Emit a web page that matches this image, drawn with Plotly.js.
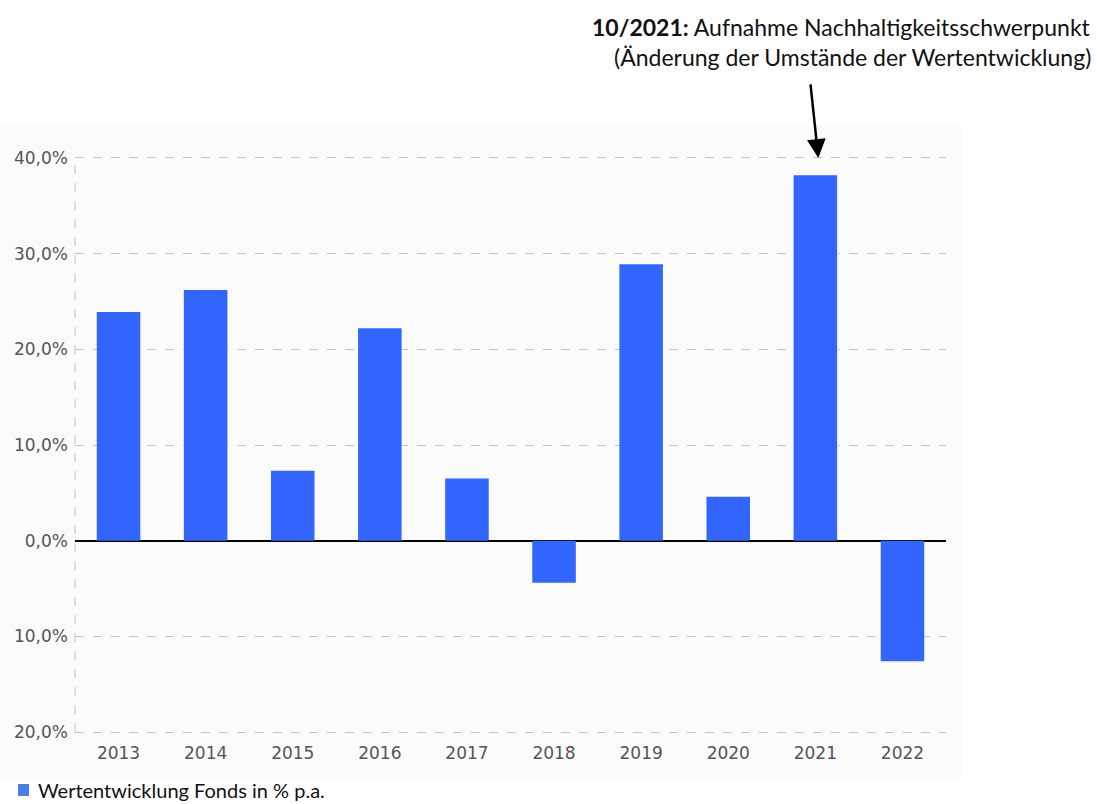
<!DOCTYPE html>
<html>
<head>
<meta charset="utf-8">
<script src="https://cdn.plot.ly/plotly-3.0.1.min.js"></script>
<style>html,body{margin:0;padding:0;background:#fff;}#chart{width:1097px;height:804px;}</style>
</head>
<body>
<div id="chart"></div>
<script>
const years = ['2013','2014','2015','2016','2017','2018','2019','2020','2021','2022'];
const values = [23.9, 26.2, 7.3, 22.2, 6.5, -4.4, 28.9, 4.6, 38.2, -12.6];
const yTickVals = [40, 30, 20, 10, 0, -10, -20];
const yTickText = ['40,0%', '30,0%', '20,0%', '10,0%', '0,0%', '10,0%', '20,0%'];
const seriesName = 'Wertentwicklung Fonds in % p.a.';
const noteBold = '10/2021:';
const noteLine1 = 'Aufnahme Nachhaltigkeitsschwerpunkt';
const noteLine2 = '(Änderung der Umstände der Wertentwicklung)';
const noteYear = '2021';
const barColor = '#3366ff';

const trace = {
  type: 'bar',
  x: years,
  y: values,
  name: seriesName,
  width: 0.5,
  marker: {color: barColor, line: {width: 0}},
  hoverinfo: 'x+y',
  showlegend: false
};

const tickFont = {family: '"DejaVu Sans", Verdana, sans-serif', size: 17, color: '#555'};
const noteFont = {family: 'Lato, "Noto Sans", sans-serif', size: 23, color: '#111'};

const layout = {
  width: 1097,
  height: 804,
  margin: {l: 75, r: 151, t: 156, b: 70},
  paper_bgcolor: '#ffffff',
  plot_bgcolor: 'rgba(0,0,0,0)',
  showlegend: false,
  xaxis: {
    type: 'category',
    range: [-0.5, 9.5],
    showgrid: false,
    showline: false,
    zeroline: false,
    ticks: '',
    tickfont: tickFont,
    ticklabelstandoff: 7
  },
  yaxis: {
    range: [-20.2, 40.2],
    tickvals: yTickVals,
    ticktext: yTickText,
    showgrid: true,
    gridcolor: '#c4c4c4',
    griddash: 'dash',
    gridwidth: 1,
    zeroline: true,
    zerolinecolor: '#000',
    zerolinewidth: 2,
    showline: false,
    ticks: '',
    tickfont: tickFont,
    ticklabelstandoff: 6
  },
  shapes: [
    {type: 'rect', xref: 'paper', yref: 'paper', x0: -0.0861, x1: 1.0184, y0: -0.0796, y1: 1.0536,
     fillcolor: '#fbfbfb', line: {width: 0}, layer: 'below'},
    {type: 'line', xref: 'paper', yref: 'y', x0: 0, x1: 0, y0: -20, y1: 40,
     line: {color: '#c4c4c4', width: 1, dash: 'dash'}, layer: 'below'},
    {type: 'rect', xref: 'paper', yref: 'paper', x0: -0.0654, x1: -0.0528, y0: -0.0865, y1: -0.1073,
     fillcolor: '#4a7ee8', line: {width: 0}}
  ],
  annotations: [
    {xref: 'paper', yref: 'paper', x: 1.1653, y: 1.2232, xanchor: 'right', yanchor: 'middle', xshift: 3,
     text: '<b>' + noteBold + '</b> ' + noteLine1, showarrow: false, align: 'right', font: noteFont},
    {xref: 'paper', yref: 'paper', x: 1.1653, y: 1.1713, xanchor: 'right', yanchor: 'middle', xshift: 3,
     text: noteLine2, showarrow: false, align: 'right', font: noteFont},
    {xref: 'x', yref: 'y', x: years.indexOf(noteYear), y: 40, text: '', showarrow: true,
     arrowhead: 2, arrowsize: 1.5, arrowwidth: 2.5, arrowcolor: '#000',
     ax: -8, ay: -75, standoff: 0, xshift: 3},
    {xref: 'paper', yref: 'paper', x: -0.0448, y: -0.0965, xanchor: 'left', yanchor: 'middle',
     text: seriesName, showarrow: false,
     font: {family: 'Lato, "Noto Sans", sans-serif', size: 20, color: '#111'}}
  ]
};

Plotly.newPlot('chart', [trace], layout, {displayModeBar: false, responsive: false});
</script>
</body>
</html>
